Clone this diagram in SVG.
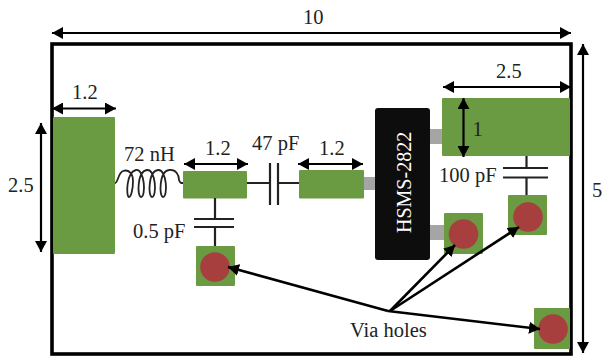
<svg xmlns="http://www.w3.org/2000/svg" width="602" height="357" viewBox="0 0 602 357">
<style>
text{font-family:"Liberation Serif","Noto Serif",serif;font-size:20.5px;fill:#222}
.g{fill:#6a9a42}
.v{fill:#a83f3f}
.l{fill:none;stroke:#000;stroke-width:2.2}
.t{fill:none;stroke:#000;stroke-width:2.6}
.w{fill:none;stroke:#222;stroke-width:2.2}
.c{fill:none;stroke:#222;stroke-width:1.8}
.lead{fill:#a5a5a5}
</style>
<defs>
<marker id="a" markerUnits="userSpaceOnUse" markerWidth="12" markerHeight="12" refX="11" refY="6" orient="auto-start-reverse"><path d="M0 0L11 6L0 12Z" fill="#000"/></marker>
</defs>
<rect width="602" height="357" fill="#fff"/>
<rect id="board" x="52" y="44" width="519" height="310" fill="none" stroke="#000" stroke-width="3.6"/>
<g id="port-left"><rect class="g" x="53" y="117" width="62" height="137" rx="1"/></g>
<g id="line-1"><rect class="g" x="183" y="171" width="64" height="27.500" rx="1"/></g>
<g id="line-2"><rect class="g" x="299" y="170" width="65" height="28.500" rx="1"/></g>
<g id="port-right"><rect class="g" x="442" y="98" width="128" height="58" rx="1"/></g>
<g id="via-1"><rect class="g" x="196" y="246" width="39" height="40" rx="1"/><circle class="v" cx="215" cy="267" r="14.800"/></g>
<g id="via-2"><rect class="g" x="444" y="213" width="39" height="41" rx="1"/><circle class="v" cx="463.500" cy="234" r="14.800"/></g>
<g id="via-3"><rect class="g" x="508" y="195" width="39" height="40" rx="1"/><circle class="v" cx="528" cy="217" r="14.800"/></g>
<g id="via-4"><rect class="g" x="534" y="308" width="36" height="41" rx="1"/><circle class="v" cx="553" cy="329" r="14.800"/></g>
<g id="diode">
<rect class="lead" x="364" y="177" width="14" height="13"/>
<rect class="lead" x="428" y="129" width="14" height="15"/>
<rect class="lead" x="428" y="225" width="16" height="15"/>
<rect x="375" y="108" width="55" height="152" rx="3" fill="#0d0d0d"/>
<text transform="translate(411 233) rotate(-90)" style="fill:#fff;font-size:20px">HSMS-2822</text>
</g>
<g id="connectors">
<path class="l" d="M52 33H571" marker-start="url(#a)" marker-end="url(#a)"/>
<path class="l" d="M583 44V353" marker-start="url(#a)" marker-end="url(#a)"/>
<path class="l" d="M41 123V252" marker-start="url(#a)" marker-end="url(#a)"/>
<path class="l" d="M52 108.500H116" marker-start="url(#a)" marker-end="url(#a)"/>
<path class="l" d="M184 164H248" marker-start="url(#a)" marker-end="url(#a)"/>
<path class="l" d="M298 164H363" marker-start="url(#a)" marker-end="url(#a)"/>
<path class="l" d="M443 87H571" marker-start="url(#a)" marker-end="url(#a)"/>
<path class="l" d="M463.500 98V157" marker-start="url(#a)" marker-end="url(#a)"/>
<path class="c" d="M115 183C118 183 118 173 123 171C129 169 133 174 133 181C133 189 131 197 129 197C126 197 126 172 136 170C145 169 146 197 141 197C137 197 137 171 147 170C156 169 157 197 152 197C148 197 148 171 158 170C167 169 168 197 163 197C159 197 159 171 169 170C176 169 179 175 179 180C180 183 181 183 183 183"/>
<path class="w" d="M247 183H270M270 163V205M278 163V205M278 183H299"/>
<path class="w" d="M215 198V219M194 219H234M194 227H234M215 227V246"/>
<path class="w" d="M526.500 156V168M503 168H548M503 177.500H548M526.500 177.500V195"/>
<path class="t" d="M388 311L228 267" marker-end="url(#a)"/>
<path class="t" d="M390 311L455 245" marker-end="url(#a)"/>
<path class="t" d="M390 311L519 227" marker-end="url(#a)"/>
<path class="t" d="M388 311L540 329" marker-end="url(#a)"/>
</g>
<text x="303" y="24">10</text>
<text x="72" y="99">1.2</text>
<text x="124" y="161">72 nH</text>
<text x="205" y="155">1.2</text>
<text x="252" y="150">47 pF</text>
<text x="319" y="155">1.2</text>
<text x="496" y="78">2.5</text>
<text x="472.500" y="136">1</text>
<text x="439" y="182">100 pF</text>
<text x="8" y="192">2.5</text>
<text x="133" y="238">0.5 pF</text>
<text x="350" y="337">Via holes</text>
<text x="592" y="197">5</text>
</svg>
